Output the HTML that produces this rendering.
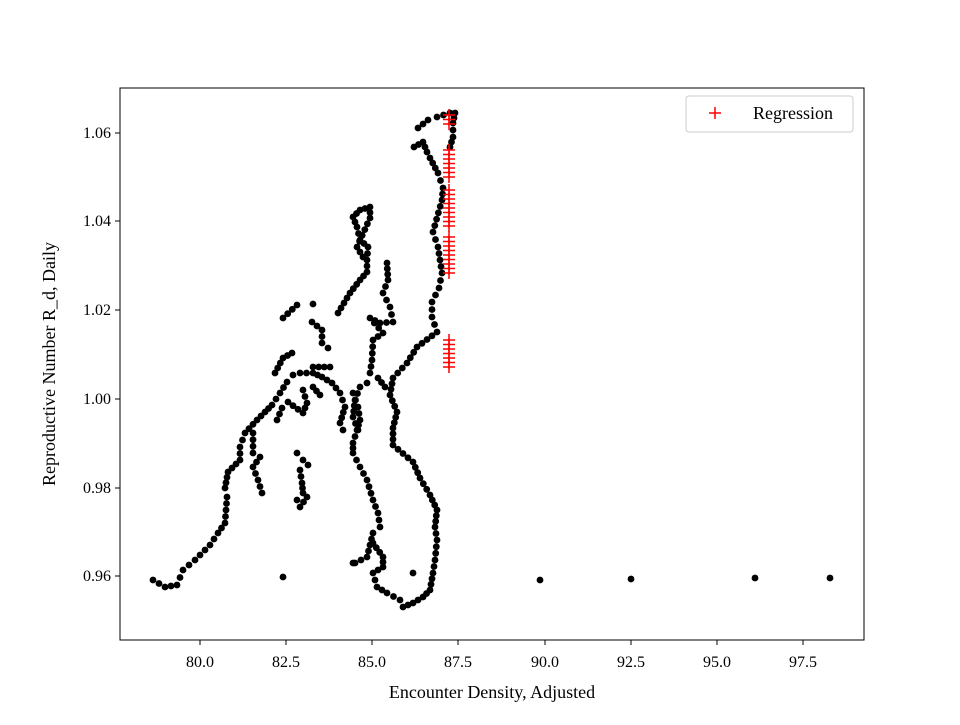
<!DOCTYPE html>
<html><head><meta charset="utf-8"><style>
body{margin:0;background:#fff}
svg text{font-family:"Liberation Serif",serif;fill:#000}
</style></head><body>
<svg id="s" width="960" height="720" xmlns="http://www.w3.org/2000/svg">
<rect width="960" height="720" fill="#fff"/>
<g id="d"></g>
<rect x="120" y="88" width="744" height="552" fill="none" stroke="#000" stroke-width="1"/>
<g stroke="#000" stroke-width="1">
<line x1="200" y1="640" x2="200" y2="645"/><line x1="286" y1="640" x2="286" y2="645"/><line x1="372" y1="640" x2="372" y2="645"/><line x1="458" y1="640" x2="458" y2="645"/><line x1="545" y1="640" x2="545" y2="645"/><line x1="631" y1="640" x2="631" y2="645"/><line x1="717" y1="640" x2="717" y2="645"/><line x1="803" y1="640" x2="803" y2="645"/>
<line x1="115" y1="133" x2="120" y2="133"/><line x1="115" y1="221" x2="120" y2="221"/><line x1="115" y1="310" x2="120" y2="310"/><line x1="115" y1="399" x2="120" y2="399"/><line x1="115" y1="488" x2="120" y2="488"/><line x1="115" y1="576" x2="120" y2="576"/>
</g>
<g font-size="16" text-anchor="middle">
<text x="200" y="667">80.0</text><text x="286" y="667">82.5</text><text x="372" y="667">85.0</text><text x="458" y="667">87.5</text><text x="545" y="667">90.0</text><text x="631" y="667">92.5</text><text x="717" y="667">95.0</text><text x="803" y="667">97.5</text>
</g>
<g font-size="16" text-anchor="end">
<text x="111" y="138">1.06</text><text x="111" y="226">1.04</text><text x="111" y="315">1.02</text><text x="111" y="404">1.00</text><text x="111" y="493">0.98</text><text x="111" y="581">0.96</text>
</g>
<text x="492" y="698" font-size="18" text-anchor="middle">Encounter Density, Adjusted</text>
<text transform="translate(55,364) rotate(-90)" font-size="18" text-anchor="middle">Reproductive Number R_d, Daily</text>
<rect x="686" y="96" width="167" height="36" rx="3" fill="#fff" stroke="#ccc"/>
<g stroke="red" stroke-width="1.5"><line x1="709" y1="113" x2="721" y2="113"/><line x1="715" y1="107" x2="715" y2="119"/></g>
<text x="753" y="119" font-size="18">Regression</text>
</svg>
<script>
var P=[
[[153,580],[165,587],[177,585],[183,570],[195,560],[210,545],[218,533],[225,523],[227,497],[225,488],[228,472],[240,460],[240,447],[245,433],[257,420],[265,412],[272,405],[280,393],[287,382],[293,375],[300,373],[313,373],[322,377],[332,383],[340,393],[345,407],[340,423],[343,430]],
[[275,373],[283,358],[292,353]],
[[253,433],[253,453],[260,457],[253,467],[258,480],[262,493]],
[[277,420],[282,408],[288,402],[303,413],[307,403],[303,390]],
[[283,318],[297,305]],[[313,304]],
[[312,322],[322,330],[322,343],[328,348]],
[[313,367],[330,367]],[[313,387],[320,395]],
[[353,393],[358,407],[360,420],[357,430],[353,443],[353,453],[360,467],[367,480],[373,500],[378,513],[380,527],[373,533],[370,545],[367,557],[355,563]],
[[373,543],[383,557],[383,567],[373,573],[377,587],[387,593],[400,600],[403,607],[413,603],[423,597],[430,590],[433,573],[435,560],[437,540],[435,527],[437,510],[430,495],[420,478],[413,462],[393,445],[393,428],[397,412],[390,395],[393,378],[407,363],[417,347],[437,332],[432,317],[432,302],[439,288],[442,273],[440,260],[438,247],[433,232],[442,200],[443,188],[438,173],[430,158],[427,152],[423,142],[414,147]],
[[418,128],[428,120],[437,117],[450,113],[455,113],[453,123],[453,137],[450,147]],
[[387,263],[388,280],[383,293],[390,307],[393,322],[380,323],[370,318],[383,333],[373,340],[372,360],[370,373],[378,378],[385,387]],
[[367,383],[360,387],[355,400],[353,417],[358,430]],
[[338,313],[350,293],[360,280],[367,272],[367,260],[368,247],[360,240],[357,227],[353,217],[360,210],[370,207],[370,218],[357,247],[363,257]],
[[297,453],[303,460],[308,465],[300,470],[302,483],[303,493],[297,500],[300,507],[307,497]],
[[413,573]],[[283,577]],[[353,563]],[[540,580]],[[631,579]],[[755,578]],[[830,578]]
];
var g=document.getElementById("d"),h="";
P.forEach(function(l){
 if(l.length==1){h+='<circle cx="'+l[0][0]+'" cy="'+l[0][1]+'" r="3.4"/>';return;}
 for(var i=0;i<l.length-1;i++){var a=l[i],b=l[i+1],dx=b[0]-a[0],dy=b[1]-a[1],L=Math.sqrt(dx*dx+dy*dy),n=Math.max(1,Math.round(L/6.5));
  for(var k=0;k<n;k++){h+='<circle cx="'+(a[0]+dx*k/n).toFixed(1)+'" cy="'+(a[1]+dy*k/n).toFixed(1)+'" r="3.4"/>';}}
 var e=l[l.length-1];h+='<circle cx="'+e[0]+'" cy="'+e[1]+'" r="3.4"/>';
});
var R=[[115,125],[150,180],[190,227],[237,273],[340,370]],c="";
R.forEach(function(r){for(var y=r[0];y<=r[1];y+=4.5){c+='<line x1="443" y1="'+y+'" x2="455" y2="'+y+'"/><line x1="449" y1="'+(y-6)+'" x2="449" y2="'+(y+6)+'"/>';}});
g.innerHTML='<g fill="#000">'+h+'</g><g stroke="red" stroke-width="1.5">'+c+'</g>';
</script>
</body></html>
